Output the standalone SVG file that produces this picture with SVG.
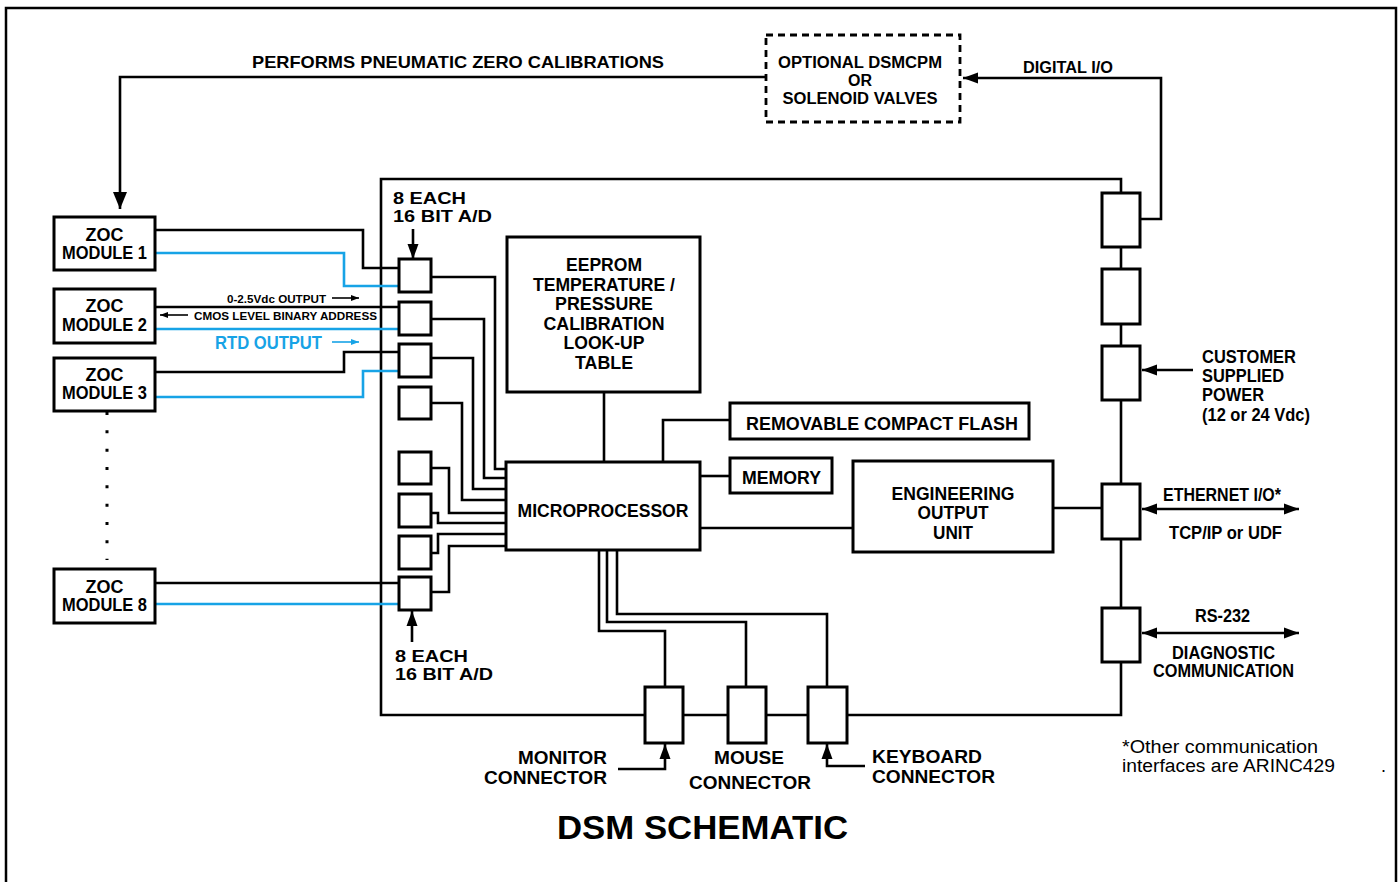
<svg xmlns="http://www.w3.org/2000/svg" width="1399" height="882" viewBox="0 0 1399 882">
<style>
.bx{fill:#fff;stroke:#000;stroke-width:3}
.ds{fill:#fff;stroke:#000;stroke-width:2.8;stroke-dasharray:7 5}
.ln{fill:none;stroke:#000;stroke-width:2.6}
.bl{fill:none;stroke:#17a3e6;stroke-width:2.6}
.thin{fill:none;stroke:#000;stroke-width:1.6}
.tb{fill:none;stroke:#17a3e6;stroke-width:1.6}
text{font-family:"Liberation Sans",Arial,Helvetica,sans-serif;font-weight:bold;fill:#000;font-size:17.5px}
.m{text-anchor:middle}
.e{text-anchor:end}
.s{font-size:11.5px}
.f16{font-size:16px}
.f165{font-size:16.5px}
.f18{font-size:18px}
.ttl{font-size:33px}
.r{font-weight:normal;font-size:18px}
.blue{fill:#17a3e6}
</style>
<defs>
<marker id="ah" markerUnits="userSpaceOnUse" markerWidth="16" markerHeight="12" refX="15" refY="6" orient="auto-start-reverse"><path d="M0,0.5 L15,6 L0,11.5 z" fill="#000"/></marker>
<marker id="ad" markerUnits="userSpaceOnUse" markerWidth="18" markerHeight="16" refX="17" refY="7" orient="auto"><path d="M0,0 L17,7 L0,14 z" fill="#000"/></marker>
<marker id="sa" markerUnits="userSpaceOnUse" markerWidth="8" markerHeight="7" refX="8" refY="3.5" orient="auto"><path d="M0,0.5 L8,3.5 L0,6.5 z" fill="#000"/></marker>
<marker id="sb" markerUnits="userSpaceOnUse" markerWidth="8" markerHeight="7" refX="8" refY="3.5" orient="auto"><path d="M0,0.5 L8,3.5 L0,6.5 z" fill="#17a3e6"/></marker>
</defs>
<rect width="1399" height="882" fill="#fff"/>
<rect x="6" y="8" width="1390" height="890" fill="none" stroke="#000" stroke-width="2.5"/>

<g id="dsm-enclosure">
<path class="ln" d="M1121,193 V179 H381 V715 H645 M683,715 H728 M766,715 H808 M847,715 H1121 V662 M1121,247 V269 M1121,324 V346 M1121,400 V484 M1121,539 V608" stroke-width="3"/>
</g>

<g id="connectors">
<path class="ln" d="M766,77 H120 V209" marker-end="url(#ad)"/>
<path class="ln" d="M1141,219 H1161 V78 H963" marker-end="url(#ah)"/>
<path class="ln" d="M1193,370 H1142" marker-end="url(#ah)"/>
<path class="ln" d="M1142,509 H1299" marker-start="url(#ah)" marker-end="url(#ah)"/>
<path class="ln" d="M1142,633 H1299" marker-start="url(#ah)" marker-end="url(#ah)"/>
<path class="ln" d="M1053,508 H1102"/>
<path class="ln" d="M700,528 H853"/>
<path class="ln" d="M700,476 H730"/>
<path class="ln" d="M663,462 V420 H730"/>
<path class="ln" d="M604,392 V462"/>
<path class="ln" d="M431,277 H495 V469 H506"/>
<path class="ln" d="M431,319 H484 V478 H506"/>
<path class="ln" d="M431,358 H473 V489 H506"/>
<path class="ln" d="M431,403 H462 V500 H506"/>
<path class="ln" d="M431,468 H449 V513 H506"/>
<path class="ln" d="M431,513 H438 V523 H506"/>
<path class="ln" d="M431,553 H438 V534 H506"/>
<path class="ln" d="M431,592 H449 V546 H506"/>
<path class="ln" d="M599,550 V631 H665 V687"/>
<path class="ln" d="M607,550 V622 H746 V687"/>
<path class="ln" d="M617,550 V614 H827 V687"/>
<path class="ln" d="M618,769 H665 V744" marker-end="url(#ah)"/>
<path class="ln" d="M865,766 H827 V744" marker-end="url(#ah)"/>
<path class="ln" d="M413,229 V259" marker-end="url(#ah)"/>
<path class="ln" d="M412,642 V611" marker-end="url(#ah)"/>
<path class="ln" d="M155,230 H363 V268 H399"/>
<path class="bl" d="M155,253 H344 V286 H399"/>
<path class="ln" d="M155,307 H399"/>
<path class="bl" d="M155,329 H399"/>
<path class="ln" d="M155,372 H344 V352 H399"/>
<path class="bl" d="M155,397 H363 V371 H399"/>
<path class="ln" d="M155,583 H399"/>
<path class="bl" d="M155,604 H399"/>
<path class="thin" d="M332,298 H359" marker-end="url(#sa)"/>
<path class="thin" d="M188,315 H160" marker-end="url(#sa)"/>
<path class="tb" d="M332,342 H359" marker-end="url(#sb)"/>
<path d="M107,412 V560" fill="none" stroke="#000" stroke-width="3" stroke-dasharray="3 15.33"/>
</g>

<g id="label-calibrations"><text class="f165" x="252" y="68" textLength="412" lengthAdjust="spacingAndGlyphs">PERFORMS PNEUMATIC ZERO CALIBRATIONS</text></g>
<g id="label-digital-io"><text class="f165" x="1023" y="73" textLength="90" lengthAdjust="spacingAndGlyphs">DIGITAL I/O</text></g>

<g id="optional-dsmcpm">
<rect class="ds" x="766" y="35" width="194" height="87"/>
<text class="m f16" x="860" y="68" textLength="164" lengthAdjust="spacingAndGlyphs">OPTIONAL DSMCPM</text>
<text class="m f16" x="860" y="86">OR</text>
<text class="m f16" x="860" y="104" textLength="155" lengthAdjust="spacingAndGlyphs">SOLENOID VALVES</text>
</g>

<g id="zoc1"><rect class="bx" x="54" y="217" width="101" height="53"/>
<text class="m f18" x="104.5" y="241">ZOC</text>
<text class="m f18" x="104.5" y="259" textLength="85" lengthAdjust="spacingAndGlyphs">MODULE 1</text></g>
<g id="zoc2"><rect class="bx" x="54" y="289" width="101" height="54"/>
<text class="m f18" x="104.5" y="312">ZOC</text>
<text class="m f18" x="104.5" y="331" textLength="85" lengthAdjust="spacingAndGlyphs">MODULE 2</text></g>
<g id="zoc3"><rect class="bx" x="54" y="358" width="101" height="53"/>
<text class="m f18" x="104.5" y="381">ZOC</text>
<text class="m f18" x="104.5" y="399" textLength="85" lengthAdjust="spacingAndGlyphs">MODULE 3</text></g>
<g id="zoc8"><rect class="bx" x="54" y="569" width="101" height="54"/>
<text class="m f18" x="104.5" y="593">ZOC</text>
<text class="m f18" x="104.5" y="611" textLength="85" lengthAdjust="spacingAndGlyphs">MODULE 8</text></g>

<g id="signal-labels">
<text class="s" x="227" y="303" textLength="99" lengthAdjust="spacingAndGlyphs">0-2.5Vdc OUTPUT</text>
<text class="s" x="194" y="320" textLength="183" lengthAdjust="spacingAndGlyphs">CMOS LEVEL BINARY ADDRESS</text>
<text class="blue" x="215" y="349" textLength="107" lengthAdjust="spacingAndGlyphs">RTD OUTPUT</text>
</g>

<g id="ad-label-top">
<text class="f16" x="393" y="204" textLength="73" lengthAdjust="spacingAndGlyphs">8 EACH</text>
<text class="f16" x="393" y="222" textLength="99" lengthAdjust="spacingAndGlyphs">16 BIT A/D</text>
</g>
<g id="ad-label-bottom">
<text class="f16" x="395" y="662" textLength="73" lengthAdjust="spacingAndGlyphs">8 EACH</text>
<text class="f16" x="395" y="680" textLength="98" lengthAdjust="spacingAndGlyphs">16 BIT A/D</text>
</g>

<g id="ad1"><rect class="bx" x="399" y="259" width="32" height="33"/></g>
<g id="ad2"><rect class="bx" x="399" y="302" width="32" height="33"/></g>
<g id="ad3"><rect class="bx" x="399" y="344" width="32" height="33"/></g>
<g id="ad4"><rect class="bx" x="399" y="387" width="32" height="32"/></g>
<g id="ad5"><rect class="bx" x="399" y="452" width="32" height="32"/></g>
<g id="ad6"><rect class="bx" x="399" y="494" width="32" height="33"/></g>
<g id="ad7"><rect class="bx" x="399" y="536" width="32" height="33"/></g>
<g id="ad8"><rect class="bx" x="399" y="577" width="32" height="33"/></g>

<g id="eeprom"><rect class="bx" x="507" y="237" width="193" height="155"/>
<text class="m" x="604" y="271" textLength="76" lengthAdjust="spacingAndGlyphs">EEPROM</text>
<text class="m" x="604" y="291" textLength="142" lengthAdjust="spacingAndGlyphs">TEMPERATURE /</text>
<text class="m" x="604" y="310" textLength="98" lengthAdjust="spacingAndGlyphs">PRESSURE</text>
<text class="m" x="604" y="330" textLength="121" lengthAdjust="spacingAndGlyphs">CALIBRATION</text>
<text class="m" x="604" y="349" textLength="81" lengthAdjust="spacingAndGlyphs">LOOK-UP</text>
<text class="m" x="604" y="369" textLength="58" lengthAdjust="spacingAndGlyphs">TABLE</text></g>

<g id="microprocessor"><rect class="bx" x="506" y="462" width="194" height="88"/>
<text class="m f18" x="603" y="517" textLength="171" lengthAdjust="spacingAndGlyphs">MICROPROCESSOR</text></g>

<g id="compact-flash"><rect class="bx" x="730" y="403" width="299" height="36"/>
<text class="f18" x="746" y="430" textLength="272" lengthAdjust="spacingAndGlyphs">REMOVABLE COMPACT FLASH</text></g>

<g id="memory"><rect class="bx" x="730" y="458" width="102" height="35"/>
<text class="f18" x="742" y="484" textLength="79" lengthAdjust="spacingAndGlyphs">MEMORY</text></g>

<g id="engineering-output-unit"><rect class="bx" x="853" y="461" width="200" height="91"/>
<text class="m f18" x="953" y="500" textLength="123" lengthAdjust="spacingAndGlyphs">ENGINEERING</text>
<text class="m f18" x="953" y="519" textLength="71" lengthAdjust="spacingAndGlyphs">OUTPUT</text>
<text class="m f18" x="953" y="539" textLength="40" lengthAdjust="spacingAndGlyphs">UNIT</text></g>

<g id="conn-digital"><rect class="bx" x="1102" y="193" width="38" height="54"/></g>
<g id="conn-2"><rect class="bx" x="1102" y="269" width="38" height="55"/></g>
<g id="conn-power"><rect class="bx" x="1102" y="346" width="38" height="54"/></g>
<g id="conn-ethernet"><rect class="bx" x="1102" y="484" width="38" height="55"/></g>
<g id="conn-rs232"><rect class="bx" x="1102" y="608" width="38" height="54"/></g>

<g id="label-power">
<text x="1202" y="363" textLength="94" lengthAdjust="spacingAndGlyphs">CUSTOMER</text>
<text x="1202" y="382" textLength="82" lengthAdjust="spacingAndGlyphs">SUPPLIED</text>
<text x="1202" y="401" textLength="62" lengthAdjust="spacingAndGlyphs">POWER</text>
<text x="1202" y="421" textLength="108" lengthAdjust="spacingAndGlyphs">(12 or 24 Vdc)</text>
</g>
<g id="label-ethernet">
<text x="1163" y="501" textLength="118" lengthAdjust="spacingAndGlyphs">ETHERNET I/O*</text>
<text x="1169" y="539" textLength="113" lengthAdjust="spacingAndGlyphs">TCP/IP or UDF</text>
</g>
<g id="label-rs232">
<text x="1195" y="622" textLength="55" lengthAdjust="spacingAndGlyphs">RS-232</text>
<text x="1172" y="659" textLength="103" lengthAdjust="spacingAndGlyphs">DIAGNOSTIC</text>
<text x="1153" y="677" textLength="141" lengthAdjust="spacingAndGlyphs">COMMUNICATION</text>
</g>

<g id="monitor-connector"><rect class="bx" x="645" y="687" width="38" height="56"/>
<text class="e f18" x="607" y="764" textLength="89" lengthAdjust="spacingAndGlyphs">MONITOR</text>
<text class="e f18" x="607" y="784" textLength="123" lengthAdjust="spacingAndGlyphs">CONNECTOR</text></g>
<g id="mouse-connector"><rect class="bx" x="728" y="687" width="38" height="56"/>
<text class="m f18" x="749" y="764" textLength="70" lengthAdjust="spacingAndGlyphs">MOUSE</text>
<text class="m f18" x="750" y="789" textLength="122" lengthAdjust="spacingAndGlyphs">CONNECTOR</text></g>
<g id="keyboard-connector"><rect class="bx" x="808" y="687" width="39" height="56"/>
<text class="f18" x="872" y="763" textLength="110" lengthAdjust="spacingAndGlyphs">KEYBOARD</text>
<text class="f18" x="872" y="783" textLength="123" lengthAdjust="spacingAndGlyphs">CONNECTOR</text></g>

<g id="footnote">
<text class="r" x="1122" y="753" textLength="196" lengthAdjust="spacingAndGlyphs">*Other communication</text>
<text class="r" x="1122" y="772" textLength="213" lengthAdjust="spacingAndGlyphs">interfaces are ARINC429</text>
<text class="r" x="1381" y="772">.</text>
</g>

<g id="title"><text class="ttl" x="557" y="839" textLength="291" lengthAdjust="spacingAndGlyphs">DSM SCHEMATIC</text></g>
</svg>
